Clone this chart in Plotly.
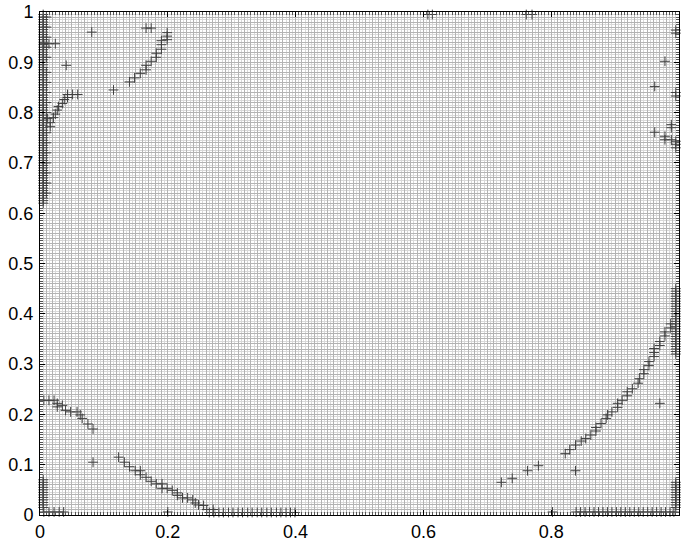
import plotly.graph_objects as go

# Axis ticks
x_tick_vals = [0, 0.2, 0.4, 0.6, 0.8, 1]
x_tick_text = ["0", "0.2", "0.4", "0.6", "0.8", "1"]
y_tick_vals = [0, 0.1, 0.2, 0.3, 0.4, 0.5, 0.6, 0.7, 0.8, 0.9, 1]
y_tick_text = ["0", "0.1", "0.2", "0.3", "0.4", "0.5", "0.6", "0.7", "0.8", "0.9", "1"]

# Flagged nodes, grouped by region: (x, y)
left_band_upper_y = [0.62, 0.625, 0.63, 0.635, 0.64, 0.645, 0.65, 0.655, 0.66, 0.665,
                     0.67, 0.675, 0.68, 0.685, 0.69, 0.695, 0.70, 0.705, 0.71, 0.715,
                     0.72, 0.725, 0.73, 0.735, 0.74, 0.745, 0.75, 0.755, 0.76, 0.765,
                     0.77, 0.775, 0.78, 0.785, 0.79, 0.795, 0.80, 0.805, 0.81, 0.815,
                     0.82, 0.825, 0.83, 0.835, 0.84, 0.845, 0.85, 0.855, 0.86, 0.865,
                     0.87, 0.875, 0.88, 0.885, 0.89, 0.895, 0.90, 0.905, 0.91, 0.915,
                     0.92, 0.925, 0.93, 0.935, 0.94, 0.945, 0.95, 0.955, 0.96, 0.965,
                     0.97, 0.975, 0.98, 0.985, 0.99, 0.995]
left_band_inner_y = [0.64, 0.66, 0.68, 0.70, 0.72, 0.74, 0.76, 0.78, 0.80, 0.82,
                     0.84, 0.86, 0.88, 0.91, 0.93, 0.95, 0.97, 0.99]
left_band_lower_y = [0.015, 0.02, 0.025, 0.03, 0.035, 0.04, 0.045, 0.05, 0.055,
                     0.06, 0.065, 0.07]

upper_left = [(0.081, 0.96), (0.006, 0.937), (0.014, 0.937), (0.024, 0.937),
              (0.041, 0.894), (0.016, 0.772), (0.016, 0.78), (0.012, 0.788),
              (0.021, 0.79), (0.024, 0.797), (0.027, 0.805), (0.029, 0.812),
              (0.035, 0.818), (0.038, 0.826), (0.043, 0.83), (0.043, 0.836),
              (0.051, 0.836), (0.059, 0.836)]
upper_diag = [(0.115, 0.845), (0.14, 0.861), (0.148, 0.869), (0.157, 0.878),
              (0.166, 0.885), (0.166, 0.894), (0.174, 0.902), (0.182, 0.91),
              (0.182, 0.918), (0.19, 0.926), (0.19, 0.935), (0.19, 0.943),
              (0.199, 0.945), (0.199, 0.952), (0.199, 0.959), (0.166, 0.968),
              (0.174, 0.968)]
top_pairs = [(0.607, 0.995), (0.614, 0.995), (0.761, 0.995), (0.77, 0.995)]
right_upper = [(0.995, 0.964), (0.995, 0.958), (0.978, 0.902), (0.962, 0.852),
               (0.995, 0.84), (0.995, 0.833), (0.988, 0.776), (0.988, 0.77),
               (0.962, 0.761), (0.978, 0.753), (0.978, 0.746), (0.988, 0.746),
               (0.995, 0.743), (0.995, 0.737), (0.995, 0.73)]
right_band_mid_y = [0.32, 0.325, 0.33, 0.335, 0.34, 0.345, 0.35, 0.355, 0.36, 0.365,
                    0.37, 0.375, 0.38, 0.385, 0.39, 0.395, 0.40, 0.405, 0.41, 0.415,
                    0.42, 0.425, 0.43, 0.435, 0.44, 0.445, 0.45]
right_band_low_y = [0.015, 0.02, 0.025, 0.03, 0.035, 0.04, 0.045, 0.05, 0.055,
                    0.06, 0.065]
bottom_left_row = [(0.006, 0.006), (0.014, 0.006), (0.022, 0.006), (0.03, 0.006),
                   (0.037, 0.006), (0.2, 0.006)]
bottom_mid_row_x = [0.265, 0.272, 0.28, 0.287, 0.295, 0.302, 0.31, 0.317, 0.325,
                    0.332, 0.34, 0.347, 0.355, 0.362, 0.37, 0.377, 0.385, 0.392, 0.399]
bottom_right_row_x = [0.802, 0.839, 0.846, 0.853, 0.86, 0.867, 0.874, 0.881, 0.888,
                      0.895, 0.902, 0.909, 0.916, 0.923, 0.93, 0.937, 0.944, 0.951,
                      0.958, 0.965, 0.972, 0.979, 0.986, 0.992]
lower_left_diag = [(0.006, 0.228), (0.014, 0.228), (0.022, 0.228), (0.027, 0.222),
                   (0.027, 0.215), (0.035, 0.218), (0.04, 0.208), (0.048, 0.205),
                   (0.058, 0.205), (0.063, 0.199), (0.066, 0.192), (0.075, 0.181),
                   (0.083, 0.171), (0.083, 0.105)]
lower_mid_diag = [(0.123, 0.115), (0.132, 0.105), (0.14, 0.096), (0.149, 0.088),
                  (0.157, 0.088), (0.157, 0.08), (0.166, 0.075), (0.174, 0.067),
                  (0.182, 0.062), (0.191, 0.062), (0.191, 0.053), (0.199, 0.053),
                  (0.207, 0.049), (0.215, 0.044), (0.215, 0.039), (0.223, 0.034),
                  (0.231, 0.034), (0.239, 0.03), (0.243, 0.024), (0.248, 0.02),
                  (0.256, 0.019), (0.261, 0.011), (0.271, 0.011)]
right_diag = [(0.722, 0.065), (0.739, 0.073), (0.763, 0.088), (0.78, 0.098),
              (0.822, 0.122), (0.829, 0.13), (0.838, 0.139), (0.847, 0.147),
              (0.854, 0.152), (0.862, 0.159), (0.87, 0.167), (0.87, 0.174),
              (0.878, 0.182), (0.886, 0.192), (0.888, 0.199), (0.895, 0.205),
              (0.904, 0.214), (0.904, 0.222), (0.911, 0.228), (0.919, 0.237),
              (0.919, 0.245), (0.927, 0.251), (0.936, 0.262), (0.938, 0.271),
              (0.945, 0.281), (0.945, 0.289), (0.953, 0.297), (0.953, 0.305),
              (0.961, 0.315), (0.961, 0.323), (0.961, 0.331), (0.97, 0.337),
              (0.97, 0.345), (0.978, 0.356), (0.978, 0.364), (0.987, 0.372),
              (0.987, 0.38), (0.838, 0.088), (0.97, 0.222)]

points = []
points += [(0.005, y) for y in left_band_upper_y]
points += [(0.01, y) for y in left_band_inner_y]
points += [(0.005, y) for y in left_band_lower_y]
points += [(0.995, y) for y in right_band_mid_y]
points += [(0.995, y) for y in right_band_low_y]
points += [(x, 0.005) for x in bottom_mid_row_x]
points += [(x, 0.006) for x in bottom_right_row_x]
for group in (upper_left, upper_diag, top_pairs, right_upper, bottom_left_row,
              lower_left_diag, lower_mid_diag, right_diag):
    points += group

xs = [p[0] for p in points]
ys = [p[1] for p in points]

FINE_GRID = "#d9d9d9"    # every 0.005
COARSE_GRID = "#b3b3b3"  # every 0.01
FONT = dict(family="Liberation Sans, Arial, Helvetica, sans-serif", size=18, color="black")

fig = go.Figure()
fig.add_trace(go.Scatter(
    x=xs, y=ys, mode="markers", cliponaxis=False, hoverinfo="skip", showlegend=False,
    marker=dict(symbol="cross-thin", size=7, color="#404040",
                line=dict(width=1, color="#404040")),
))

axis_common = dict(
    range=[0, 1], showline=True, linecolor="black", linewidth=1, mirror="allticks",
    ticks="inside", ticklen=5, tickcolor="black", tickwidth=1,
    showgrid=True, gridcolor=COARSE_GRID, gridwidth=1, zeroline=False,
    tickfont=FONT, fixedrange=True,
    minor=dict(tickmode="linear", tick0=0, dtick=0.005, showgrid=True, gridcolor=FINE_GRID,
               gridwidth=1, ticks="inside", ticklen=3, tickcolor="#555555", tickwidth=1),
)
fig.update_xaxes(tickmode="array", tickvals=x_tick_vals, ticktext=x_tick_text, **axis_common)
fig.update_yaxes(tickmode="array", tickvals=y_tick_vals, ticktext=y_tick_text,
                 ticklabelstandoff=2, **axis_common)

# Overlaid axes supplying the darker 0.01 grid
overlay = dict(range=[0, 1], tickmode="linear", tick0=0, dtick=0.01, showgrid=True,
               gridcolor=COARSE_GRID, gridwidth=1, showticklabels=False, ticks="",
               showline=False, zeroline=False, fixedrange=True)
fig.update_layout(
    xaxis2=dict(overlaying="x", side="top", **overlay),
    yaxis2=dict(overlaying="y", side="right", **overlay),
)
fig.add_trace(go.Scatter(x=[None], y=[None], xaxis="x2", yaxis="y2",
                         mode="markers", showlegend=False, hoverinfo="skip"))

fig.update_layout(
    width=681, height=543,
    margin=dict(l=40, r=1, t=12, b=26),
    paper_bgcolor="white", plot_bgcolor="white",
)

fig.write_html("out.html")
